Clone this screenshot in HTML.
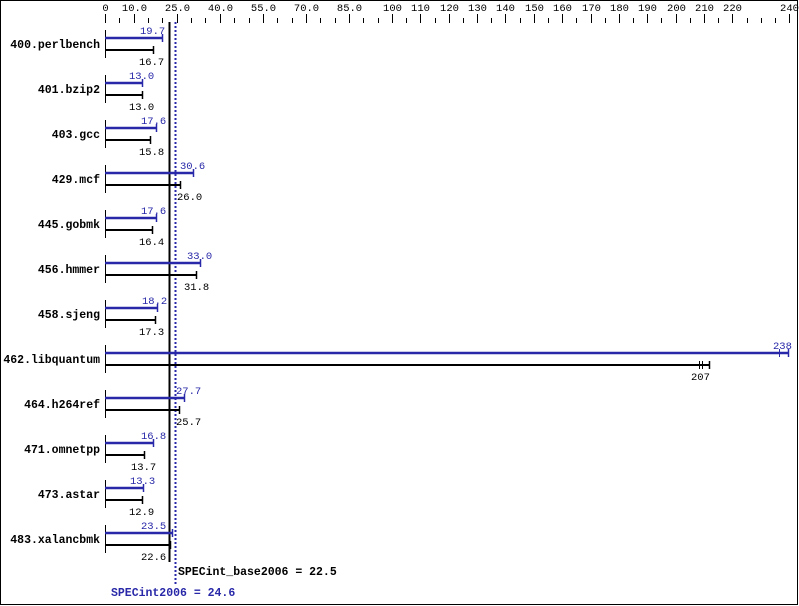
<!DOCTYPE html>
<html><head><meta charset="utf-8"><style>
html,body{margin:0;padding:0;background:#fff;}
svg{display:block;}
text{font-family:"Liberation Mono","DejaVu Sans Mono",monospace;}
</style></head><body>
<svg id="c" xmlns="http://www.w3.org/2000/svg" width="799" height="606" viewBox="0 0 799 606">
<rect x="0.5" y="0.5" width="797" height="604" fill="#fff" stroke="#000" stroke-width="1"/>
</svg>
<script>
var s=document.getElementById('c'),NS='http://www.w3.org/2000/svg';
function el(t,a,txt){var e=document.createElementNS(NS,t);for(var k in a)e.setAttribute(k,a[k]);if(txt!=null)e.textContent=txt;s.appendChild(e);return e;}
function X(v){return v<=100?105+2.87*v:392+(v-100)*2.836;}
function ln(x1,y1,x2,y2,c,w,d){var a={x1:x1,y1:y1,x2:x2,y2:y2,stroke:c,'stroke-width':w};if(d)a['stroke-dasharray']=d;el('line',a);}
var labels=[0,10,25,40,55,70,85,100,110,120,130,140,150,160,170,180,190,200,210,220,240];
labels.forEach(function(v){var x=Math.round(X(v))+0.5;ln(x,14,x,23,'#000',1);
 el('text',{x:x,y:11,'font-size':'10.5','text-anchor':'middle',fill:'#000'},v==0?'0':(v<100?v.toFixed(1):String(v)));});
for(var v=5;v<240;v+=5){if(labels.indexOf(v)>=0)continue;var x=Math.round(X(v))+0.5;ln(x,18,x,23,'#000',1);}
var B='#2828a8';
// name, blue, black, blue text start, black text start
var rows=[["400.perlbench",19.7,16.7,140,139],["401.bzip2",13.0,13.0,129,129],["403.gcc",17.6,15.8,141,139],["429.mcf",30.6,26.0,180,177],["445.gobmk",17.6,16.4,141,139],["456.hmmer",33.0,31.8,187,184],["458.sjeng",18.2,17.3,142,139],["462.libquantum",238,207,773,691],["464.h264ref",27.7,25.7,176,176],["471.omnetpp",16.8,13.7,141,131],["473.astar",13.3,12.9,130,129],["483.xalancbmk",23.5,22.6,141,141]];
ln(169.5,22,169.5,562,'#000',2);
ln(175.5,22,175.5,584,B,2,'2,2');
rows.forEach(function(r,i){
 var yb=38+45*i,yk=yb+12;
 ln(105.5,yb-8,105.5,yk+8,'#000',1);
 el('text',{x:100,y:yb+10,'font-size':'11.5','font-weight':'bold','text-anchor':'end',fill:'#000'},r[0]);
 var xb,xk;
 if(r[1]>200){xb=788;xk=709;
  ln(105,yb,xb,yb,B,2.5);ln(xb+0.5,yb-4,xb+0.5,yb+4,B,1.5);ln(779.5,yb-4,779.5,yb+4,B,1);
  ln(105,yk,xk,yk,'#000',2);ln(xk+0.5,yk-4,xk+0.5,yk+4,'#000',1.5);ln(699.5,yk-4,699.5,yk+4,'#000',1);ln(702.5,yk-4,702.5,yk+4,'#000',1);
 }else{xb=Math.round(X(r[1]));xk=Math.round(X(r[2]));
  ln(105,yb,xb,yb,B,2.5);ln(xb+0.5,yb-4,xb+0.5,yb+4,B,1.5);
  ln(105,yk,xk,yk,'#000',2);ln(xk+0.5,yk-4,xk+0.5,yk+4,'#000',1.5);}
 var fb=r[1]>=100?String(r[1]):r[1].toFixed(1),fk=r[2]>=100?String(r[2]):r[2].toFixed(1);
 el('text',{x:r[3],y:yb-4,'font-size':'10.5',fill:B},fb);
 el('text',{x:r[4],y:yk+15,'font-size':'10.5',fill:'#000'},fk);
});
el('text',{x:178,y:575,'font-size':'11.5','font-weight':'bold',fill:'#000'},'SPECint_base2006 = 22.5');
el('text',{x:111,y:596,'font-size':'11.5','font-weight':'bold',fill:B},'SPECint2006 = 24.6');
</script>
</body></html>
